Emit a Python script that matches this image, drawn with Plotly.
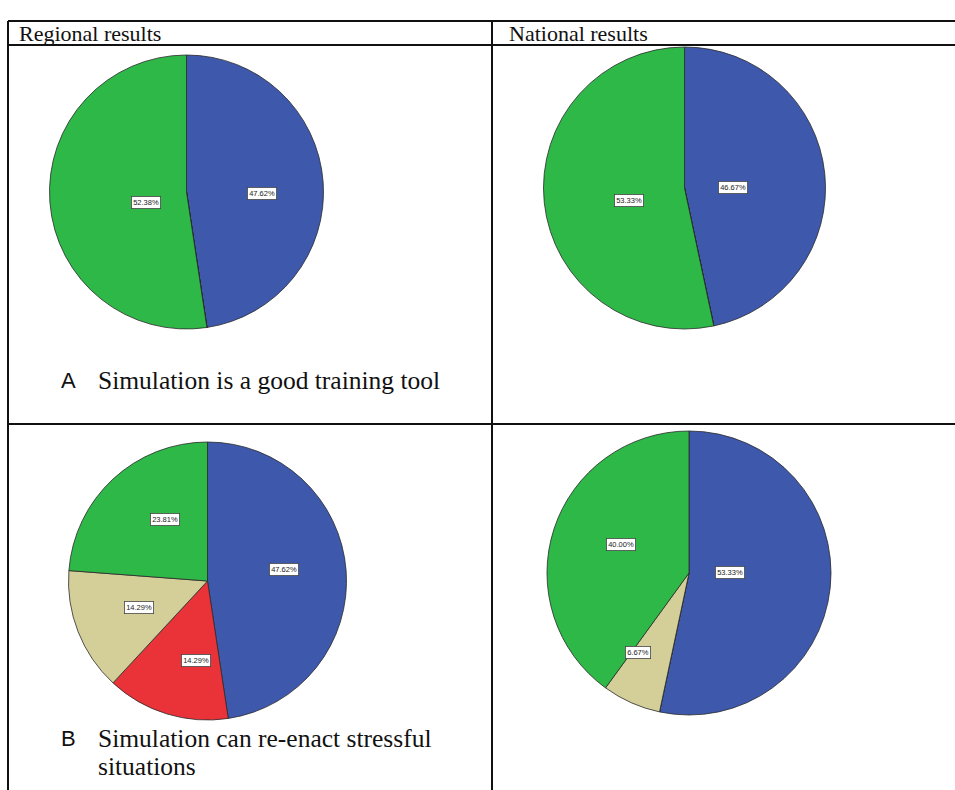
import math
import plotly.graph_objects as go

# Response categories and slice colours (SPSS-style palette)
categories = ["Agree", "Disagree", "Neutral", "Strongly agree"]
category_colors = ["#3E58AC", "#EA3338", "#D4CE98", "#2EB848"]

# Percentages per panel (same category order as above)
regional_a = [47.62, 0.0, 0.0, 52.38]
national_a = [46.67, 0.0, 0.0, 53.33]
regional_b = [47.62, 14.29, 14.29, 23.81]
national_b = [53.33, 0.0, 6.67, 40.00]

column_headers = ["Regional results", "National results"]
panel_letters = ["A", "B"]
panel_captions = [["Simulation is a good training tool"],
                  ["Simulation can re-enact stressful", "situations"]]

W, H = 955, 790

# Pie placement in pixels: centre x, centre y, radius
pie_layout = [
    (regional_a, 186.5, 192, 137),
    (national_a, 684.5, 188, 141),
    (regional_b, 207.5, 581, 139),
    (national_b, 689.0, 573, 142),
]


def px_x(x):
    return x / W


def px_y(y):
    return 1 - y / H


fig = go.Figure()
annotations = []

for values, cx, cy, r in pie_layout:
    dom_x = [px_x(cx - r), px_x(cx + r)]
    dom_y = [px_y(cy + r), px_y(cy - r)]
    fig.add_trace(go.Pie(
        labels=categories,
        values=values,
        sort=False,
        direction="clockwise",
        rotation=0,
        marker=dict(colors=category_colors, line=dict(color="#2a2a2a", width=0.8)),
        textinfo="none",
        hoverinfo="label+percent",
        showlegend=False,
        domain=dict(x=dom_x, y=dom_y),
    ))
    # value labels at the centroid of each slice
    total = sum(values)
    cum = 0.0
    for v in values:
        if v <= 0:
            continue
        start = cum / total * 2 * math.pi
        sweep = v / total * 2 * math.pi
        cum += v
        mid = start + sweep / 2
        half = sweep / 2
        d = 2 * r * math.sin(half) / (3 * half)
        lx = cx + d * math.sin(mid)
        ly = cy - d * math.cos(mid)
        annotations.append(dict(
            x=px_x(lx), y=px_y(ly), xref="paper", yref="paper",
            text=f"{v:.2f}%", showarrow=False,
            font=dict(family="Liberation Sans", size=7.5, color="#222"),
            bgcolor="white", bordercolor="#444", borderwidth=0.8, borderpad=1.4,
        ))

# Table rules
line_style = dict(color="#111", width=2)
shapes = [
    dict(type="line", xref="paper", yref="paper", x0=px_x(8), x1=1, y0=px_y(21), y1=px_y(21), line=line_style),
    dict(type="line", xref="paper", yref="paper", x0=px_x(8), x1=1, y0=px_y(45), y1=px_y(45), line=line_style),
    dict(type="line", xref="paper", yref="paper", x0=px_x(8), x1=1, y0=px_y(424), y1=px_y(424), line=line_style),
    dict(type="line", xref="paper", yref="paper", x0=px_x(8), x1=px_x(8), y0=px_y(21), y1=0, line=line_style),
    dict(type="line", xref="paper", yref="paper", x0=px_x(492), x1=px_x(492), y0=px_y(21), y1=0, line=line_style),
]

header_font = dict(family="Liberation Serif, serif", size=22, color="#111")
for text, x in zip(column_headers, [17, 507]):
    annotations.append(dict(x=px_x(x), y=px_y(33.5), xref="paper", yref="paper", text=text,
                            showarrow=False, xanchor="left", yanchor="middle", font=header_font))

letter_font = dict(family="Liberation Sans, Arial, sans-serif", size=22, color="#111")
caption_font = dict(family="Liberation Serif, Times New Roman, serif", size=25.5, color="#111")
caption_rows = [[380], [738, 766]]
for letter, lines, ys in zip(panel_letters, panel_captions, caption_rows):
    annotations.append(dict(x=px_x(59), y=px_y(ys[0]), xref="paper", yref="paper", text=letter,
                            showarrow=False, xanchor="left", yanchor="middle", font=letter_font))
    for line, y in zip(lines, ys):
        annotations.append(dict(x=px_x(96), y=px_y(y), xref="paper", yref="paper", text=line,
                                showarrow=False, xanchor="left", yanchor="middle", font=caption_font))

fig.update_layout(
    width=W, height=H, autosize=False,
    margin=dict(l=0, r=0, t=0, b=0),
    paper_bgcolor="white", plot_bgcolor="white",
    shapes=shapes, annotations=annotations,
)

fig.write_html("out.html")
